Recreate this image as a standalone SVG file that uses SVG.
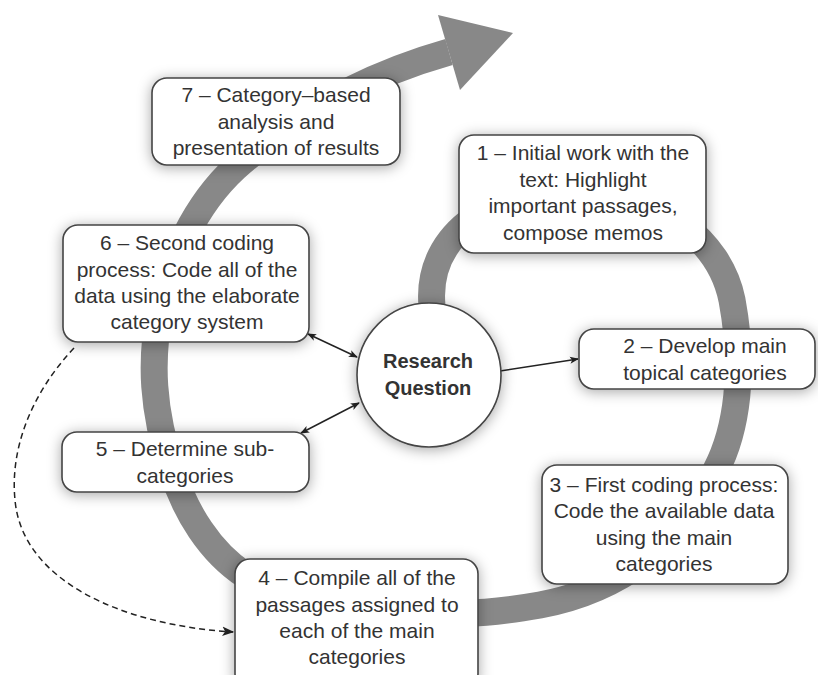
<svg xmlns="http://www.w3.org/2000/svg" width="818" height="675" viewBox="0 0 818 675">
<defs>
<style>
.box{fill:#fff;stroke:#444;stroke-width:1.6}
.t{font-family:"Liberation Sans",Arial,sans-serif;font-size:21px;fill:#333;text-anchor:middle}
.tb{font-family:"Liberation Sans",Arial,sans-serif;font-size:20px;font-weight:bold;fill:#333;text-anchor:middle}
.con{fill:none;stroke:#222;stroke-width:1.5}
</style>
<filter id="sh" x="-20%" y="-30%" width="140%" height="160%">
<feDropShadow dx="0" dy="2" stdDeviation="7" flood-color="#000" flood-opacity="0.35"/>
</filter>
<marker id="ah" viewBox="0 0 10 10" refX="9" refY="5" markerWidth="9" markerHeight="9" orient="auto-start-reverse" markerUnits="userSpaceOnUse">
<path d="M0,1 L10,5 L0,9 L2.5,5 Z" fill="#222"/>
</marker>
<marker id="ahd" viewBox="0 0 10 10" refX="9" refY="5" markerWidth="12" markerHeight="12" orient="auto" markerUnits="userSpaceOnUse">
<path d="M0,1 L10,5 L0,9 L2.5,5 Z" fill="#222"/>
</marker>
</defs>
<rect width="818" height="675" fill="#fff"/>
<g id="spiral">
<path d="M432 306 C425 230 500 188 580 190 C660 194 720 240 732 300 C745 370 737 430 716 470 C680 545 620 590 540 605 C500 612 470 615 440 612 C380 605 290 600 245 575 C210 552 185 512 172 470 C152 410 150 360 160 310 C170 260 195 205 235 168 C280 128 350 80 449 52" fill="none" stroke="#888" stroke-width="27"/>
<polygon points="438,15 513,33 460,90" fill="#888"/>
</g>
<g id="connectors">
<line class="con" x1="500" y1="371" x2="578" y2="359" marker-end="url(#ah)"/>
<line class="con" x1="308" y1="334" x2="357" y2="357" marker-start="url(#ah)" marker-end="url(#ah)"/>
<line class="con" x1="301" y1="433" x2="359" y2="403" marker-start="url(#ah)" marker-end="url(#ah)"/>
<path class="con" d="M74 348 C30 395 10 450 15 500 C22 580 120 625 233 632" stroke-dasharray="6,4" stroke-width="1.8" marker-end="url(#ahd)"/>
</g>
<g id="node7">
<rect class="box" x="152" y="78" width="248" height="87" rx="15" filter="url(#sh)"/>
<text class="t" x="276" y="102">7 – Category–based</text>
<text class="t" x="276" y="129">analysis and</text>
<text class="t" x="276" y="155">presentation of results</text>
</g>
<g id="node1">
<rect class="box" x="459" y="135" width="247" height="118" rx="15" filter="url(#sh)"/>
<text class="t" x="583" y="160">1 – Initial work with the</text>
<text class="t" x="583" y="187">text: Highlight</text>
<text class="t" x="583" y="213">important passages,</text>
<text class="t" x="583" y="240">compose memos</text>
</g>
<g id="node6">
<rect class="box" x="63" y="225" width="246" height="117" rx="15" filter="url(#sh)"/>
<text class="t" x="187" y="250">6 – Second coding</text>
<text class="t" x="187" y="277">process: Code all of the</text>
<text class="t" x="187" y="303">data using the elaborate</text>
<text class="t" x="187" y="329">category system</text>
</g>
<g id="research">
<circle cx="429" cy="375" r="72" fill="#fff" stroke="#444" stroke-width="1.6" filter="url(#sh)"/>
<text class="tb" x="428" y="368">Research</text>
<text class="tb" x="428" y="395">Question</text>
</g>
<g id="node2">
<rect class="box" x="579" y="329" width="236" height="60" rx="15" filter="url(#sh)"/>
<text class="t" x="705" y="353">2 – Develop main</text>
<text class="t" x="705" y="380">topical categories</text>
</g>
<g id="node5">
<rect class="box" x="62" y="432" width="247" height="60" rx="15" filter="url(#sh)"/>
<text class="t" x="185" y="456">5 – Determine sub-</text>
<text class="t" x="185" y="483">categories</text>
</g>
<g id="node3">
<rect class="box" x="542" y="465" width="246" height="119" rx="15" filter="url(#sh)"/>
<text class="t" x="664" y="492">3 – First coding process:</text>
<text class="t" x="664" y="518">Code the available data</text>
<text class="t" x="664" y="545">using the main</text>
<text class="t" x="664" y="571">categories</text>
</g>
<g id="node4">
<rect class="box" x="235" y="559" width="243" height="130" rx="15" filter="url(#sh)"/>
<text class="t" x="357" y="585">4 – Compile all of the</text>
<text class="t" x="357" y="612">passages assigned to</text>
<text class="t" x="357" y="638">each of the main</text>
<text class="t" x="357" y="664">categories</text>
</g>
</svg>
